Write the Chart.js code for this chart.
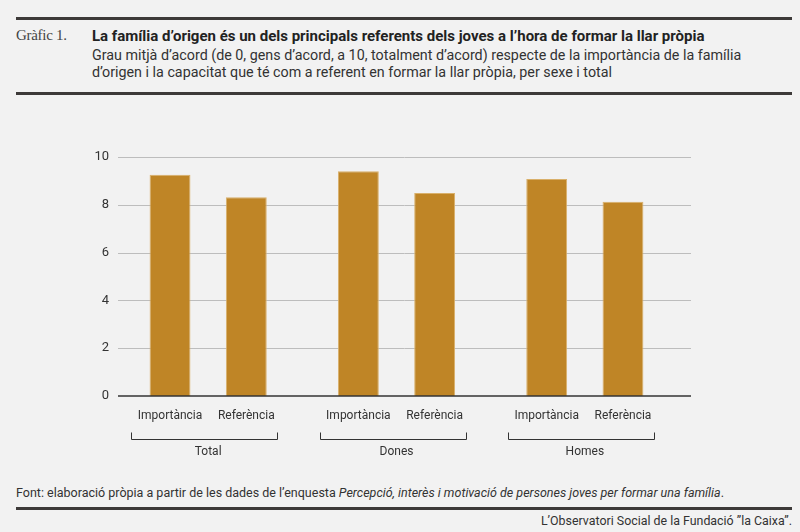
<!DOCTYPE html>
<html>
<head>
<meta charset="utf-8">
<script src="https://cdn.jsdelivr.net/npm/chart.js@4/dist/chart.umd.min.js"></script>
<style>
    body { margin: 0; background: #f2f2f2; font-family: Roboto, sans-serif; color: #333; }
    #page { position: relative; width: 800px; height: 532px; overflow: hidden; }
    .rule { position: absolute; left: 16px; width: 776px; height: 3px; background: #3d3a39; }
    .abs { position: absolute; white-space: nowrap; }
    #num { left: 16px; top: 27px; font-family: "Liberation Serif", serif; font-size: 15px; color: #444; letter-spacing: -0.3px; }
    #title { left: 92px; top: 27px; font-size: 15px; font-weight: bold; color: #222; }
    #subtitle { left: 92px; top: 47px; font-size: 14.3px; line-height: 17px; color: #333; }
    #source { left: 16px; top: 485px; font-size: 12.5px; color: #333; }
    #credit { right: 8px; top: 513px; font-size: 12.4px; color: #333; }
    #chartWrap { position: absolute; left: 0; top: 101px; width: 800px; height: 370px; }
</style>
</head>
<body>
<div id="page">
    <div class="rule" style="top:17px"></div>
    <div class="abs" id="num">Gràfic 1.</div>
    <div class="abs" id="title">La família d’origen és un dels principals referents dels joves a l’hora de formar la llar pròpia</div>
    <div class="abs" id="subtitle">Grau mitjà d’acord (de 0, gens d’acord, a 10, totalment d’acord) respecte de la importància de la família<br>d’origen i la capacitat que té com a referent en formar la llar pròpia, per sexe i total</div>
    <div class="rule" style="top:92px"></div>
    <div id="chartWrap"><canvas id="barChart"></canvas></div>
    <div class="abs" id="source">Font: elaboració pròpia a partir de les dades de l’enquesta <i>Percepció, interès i motivació de persones joves per formar una família</i>.</div>
    <div class="rule" style="top:507px"></div>
    <div class="abs" id="credit">L’Observatori Social de la Fundació ”la Caixa”.</div>
</div>
<script>
// Data
const groups = ['Total', 'Dones', 'Homes'];
const seriesNames = ['Importància', 'Referència'];
const importancia = [9.26, 9.4, 9.08];
const referencia = [8.32, 8.49, 8.13];
const yTicks = [0, 2, 4, 6, 8, 10];

const barColor = '#bf8526';

// grid lines + labels under the bars + group brackets
const decoPlugin = {
    id: 'deco',
    beforeDatasetsDraw(chart) {
        const ctx = chart.ctx;
        const area = chart.chartArea;
        const y = chart.scales.y;
        ctx.save();
        yTicks.forEach(function(v) {
            if (v === 0) return;
            const py = Math.round(y.getPixelForValue(v)) + 0.5;
            ctx.strokeStyle = '#bdbdbd';
            ctx.lineWidth = 1;
            ctx.beginPath();
            ctx.moveTo(area.left + 4, py);
            ctx.lineTo(area.right + 12, py);
            ctx.stroke();
        });
        ctx.restore();
    },
    afterDatasetsDraw(chart) {
        const ctx = chart.ctx;
        const area = chart.chartArea;
        const y = chart.scales.y;
        const x = chart.scales.x;
        ctx.save();
        // zero line
        const py0 = y.getPixelForValue(0);
        ctx.strokeStyle = '#333';
        ctx.lineWidth = 1.5;
        ctx.beginPath();
        ctx.moveTo(area.left + 4, py0);
        ctx.lineTo(area.right + 12, py0);
        ctx.stroke();

        ctx.fillStyle = '#333';
        ctx.font = '12px Roboto';
        ctx.textAlign = 'center';
        ctx.textBaseline = 'middle';
        chart.data.datasets.forEach(function(ds, i) {
            chart.getDatasetMeta(i).data.forEach(function(bar) {
                ctx.fillText(ds.label, bar.x, area.bottom + 20);
            });
        });

        ctx.strokeStyle = '#333';
        ctx.lineWidth = 1;
        groups.forEach(function(g, j) {
            const cx = x.getPixelForValue(j) - 4;
            const l = Math.round(cx - 73) + 0.5;
            const r = Math.round(cx + 73) + 0.5;
            const by = Math.round(area.bottom + 43) + 0.5;
            ctx.beginPath();
            ctx.moveTo(l, by - 7);
            ctx.lineTo(l, by);
            ctx.lineTo(r, by);
            ctx.lineTo(r, by - 7);
            ctx.stroke();
            ctx.fillText(g, cx + 4, area.bottom + 56);
        });
        ctx.restore();
    }
};

new Chart(document.getElementById('barChart'), {
    type: 'bar',
    data: {
        labels: groups,
        datasets: [{
            label: seriesNames[0],
            data: importancia,
            backgroundColor: barColor,
            borderColor: '#d9b06a',
            borderWidth: 1,
            categoryPercentage: 0.81,
            barPercentage: 0.536
        }, {
            label: seriesNames[1],
            data: referencia,
            backgroundColor: barColor,
            borderColor: '#d9b06a',
            borderWidth: 1,
            categoryPercentage: 0.81,
            barPercentage: 0.536
        }]
    },
    options: {
        responsive: true,
        maintainAspectRatio: false,
        animation: false,
        layout: {
            padding: { top: 56, right: 121, bottom: 75, left: 0 }
        },
        scales: {
            x: {
                display: false
            },
            y: {
                min: 0,
                max: 10,
                afterFit: function(scale) { scale.width = 114; },
                afterBuildTicks: function(scale) {
                    scale.ticks = yTicks.map(function(v) { return { value: v }; });
                },
                grid: { display: false, tickLength: 0 },
                border: { display: false },
                ticks: {
                    color: '#333',
                    padding: 5,
                    font: { family: 'Roboto', size: 13 }
                }
            }
        },
        plugins: {
            legend: { display: false },
            tooltip: { enabled: false }
        }
    },
    plugins: [decoPlugin]
});
</script>
</body>
</html>
